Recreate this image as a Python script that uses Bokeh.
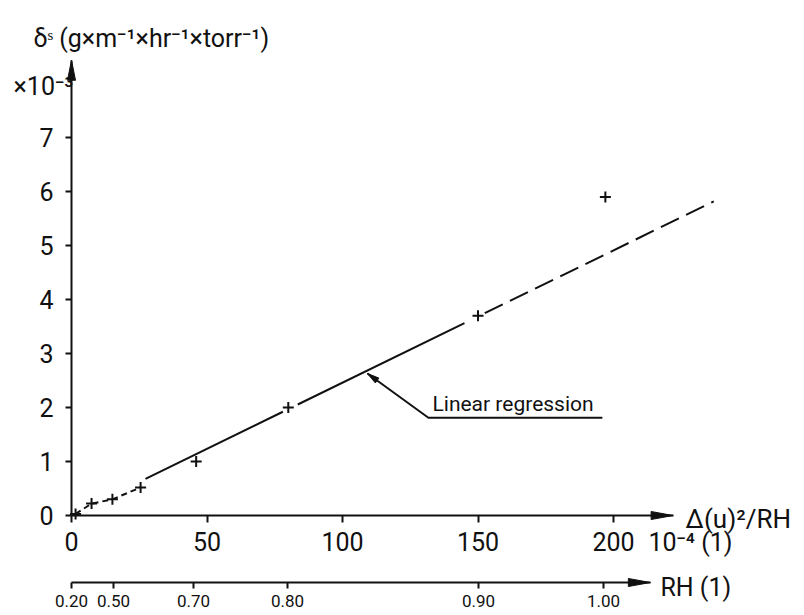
import math
from bokeh.plotting import figure
from bokeh.models import LinearAxis, FixedTicker, Label, Range1d
from bokeh.embed import file_html
from bokeh.resources import INLINE

# ---------------- data ----------------
x_vals = [1.5, 7.4, 15.1, 25.5, 46.0, 80.0, 150.0, 197.0]
y_vals = [0.03, 0.22, 0.30, 0.52, 1.00, 2.00, 3.70, 5.90]
reg_slope = 0.0245
reg_intercept = 0.01
reg_solid_segments = [(27.3, 78.0), (83.5, 145.0)]
reg_dashed_segment = (152.5, 237.0)
x_ticks = [0, 50, 100, 150, 200]
y_ticks = [0, 1, 2, 3, 4, 5, 6, 7]
rh_tick_pos = [0.0, 15.5, 45.0, 79.7, 150.2, 196.3]
rh_tick_labels = ["0.20", "0.50", "0.70", "0.80", "0.90", "1.00"]

# ---------------- geometry ----------------
W, H = 804, 615
XS, YS = 2.71, 54.0          # px per data unit
OX, OY = 71, 515             # canvas px of the origin
x0 = -OX / XS
x1 = x0 + W / XS
y1 = OY / YS
y0 = y1 - H / YS

FONT = "Roboto"
BLACK = "#111111"

p = figure(width=W, height=H, output_backend="svg", toolbar_location=None,
           x_range=Range1d(x0, x1), y_range=Range1d(y0, y1),
           x_axis_type=None, y_axis_type=None,
           min_border=0, min_border_left=0, min_border_right=0,
           min_border_top=0, min_border_bottom=0)
p.outline_line_color = None
p.background_fill_color = "white"
p.border_fill_color = "white"

y_tip = 8.43
x_tip = 222.0
rh_y = -1.241
rh_tip = 213.6


def style_axis(ax, size):
    ax.axis_line_width = 2
    ax.axis_line_color = BLACK
    ax.major_tick_line_width = 2
    ax.major_tick_line_color = BLACK
    ax.minor_tick_line_color = None
    ax.major_tick_in = 0
    ax.major_label_text_font = FONT
    ax.major_label_text_font_size = size
    ax.major_label_text_color = BLACK


yax = LinearAxis(fixed_location=0, ticker=FixedTicker(ticks=y_ticks), bounds=(0, y_tip))
style_axis(yax, "25px")
yax.major_tick_out = 6
yax.major_label_standoff = 12
p.add_layout(yax, "left")

xax = LinearAxis(fixed_location=0, ticker=FixedTicker(ticks=x_ticks), bounds=(0, x_tip))
style_axis(xax, "25px")
xax.major_tick_out = 7
xax.major_label_standoff = 9
p.add_layout(xax, "below")

rhax = LinearAxis(fixed_location=rh_y, ticker=FixedTicker(ticks=rh_tick_pos), bounds=(0, rh_tip))
style_axis(rhax, "17px")
rhax.major_tick_out = 6
rhax.major_label_standoff = 6
rhax.major_label_overrides = {pos: lab for pos, lab in zip(rh_tick_pos, rh_tick_labels)}
p.add_layout(rhax, "below")


def head(tx, ty, ux, uy, L, hw):
    # ux, uy: unit direction in screen px (y downward), pointing to the tip
    bx, by = -ux * L, -uy * L
    px_, py_ = -uy * hw, ux * hw
    pts = [(0, 0), (bx + px_, by + py_), (bx - px_, by - py_)]
    return [tx + a / XS for a, b in pts], [ty - b / YS for a, b in pts]


heads_x, heads_y = [], []
for args in [(0, y_tip, 0, -1, 20, 4), (x_tip, 0, 1, 0, 22, 4), (rh_tip, rh_y, 1, 0, 22, 4)]:
    hx, hy = head(*args)
    heads_x.append(hx)
    heads_y.append(hy)

# callout
call_x = [109.2, 131.7, 195.9]
call_y = [2.63, 1.81, 1.81]
dx = (call_x[0] - call_x[1]) * XS
dy = -(call_y[0] - call_y[1]) * YS
n = math.hypot(dx, dy)
hx, hy = head(call_x[0], call_y[0], dx / n, dy / n, 12, 3)
heads_x.append(hx)
heads_y.append(hy)
p.patches(heads_x, heads_y, fill_color=BLACK, line_color=BLACK, line_width=1)
p.line(call_x, call_y, line_color=BLACK, line_width=2)

# regression line
p.line(x_vals[:4], y_vals[:4], line_color=BLACK, line_width=2, line_dash="6 4")
for a, b in reg_solid_segments:
    p.line([a, b], [reg_slope * a + reg_intercept, reg_slope * b + reg_intercept],
           line_color=BLACK, line_width=2)
a, b = reg_dashed_segment
p.line([a, b], [reg_slope * a + reg_intercept, reg_slope * b + reg_intercept],
       line_color=BLACK, line_width=2, line_dash="20 8")

# points
p.scatter(x_vals, y_vals, marker="cross", size=11, line_width=2, line_color=BLACK)

# texts
def lab(x, y, text, size):
    p.add_layout(Label(x=x, y=y, text=text, text_font=FONT, text_font_size=size,
                       text_color=BLACK, text_baseline="middle", text_align="left"))

lab(-14.0, 8.83, "δˢ (g×m⁻¹×hr⁻¹×torr⁻¹)", "25px")
lab(-21.4, 7.94, "×10⁻³", "25px")
lab(226.6, -0.06, "Δ(u)²/RH", "26px")
lab(212.9, -0.50, "10⁻⁴ (1)", "25px")
lab(217.3, -1.33, "RH (1)", "25px")
lab(133.2, 2.06, "Linear regression", "21px")

open("out.html", "w").write(file_html(p, INLINE))
